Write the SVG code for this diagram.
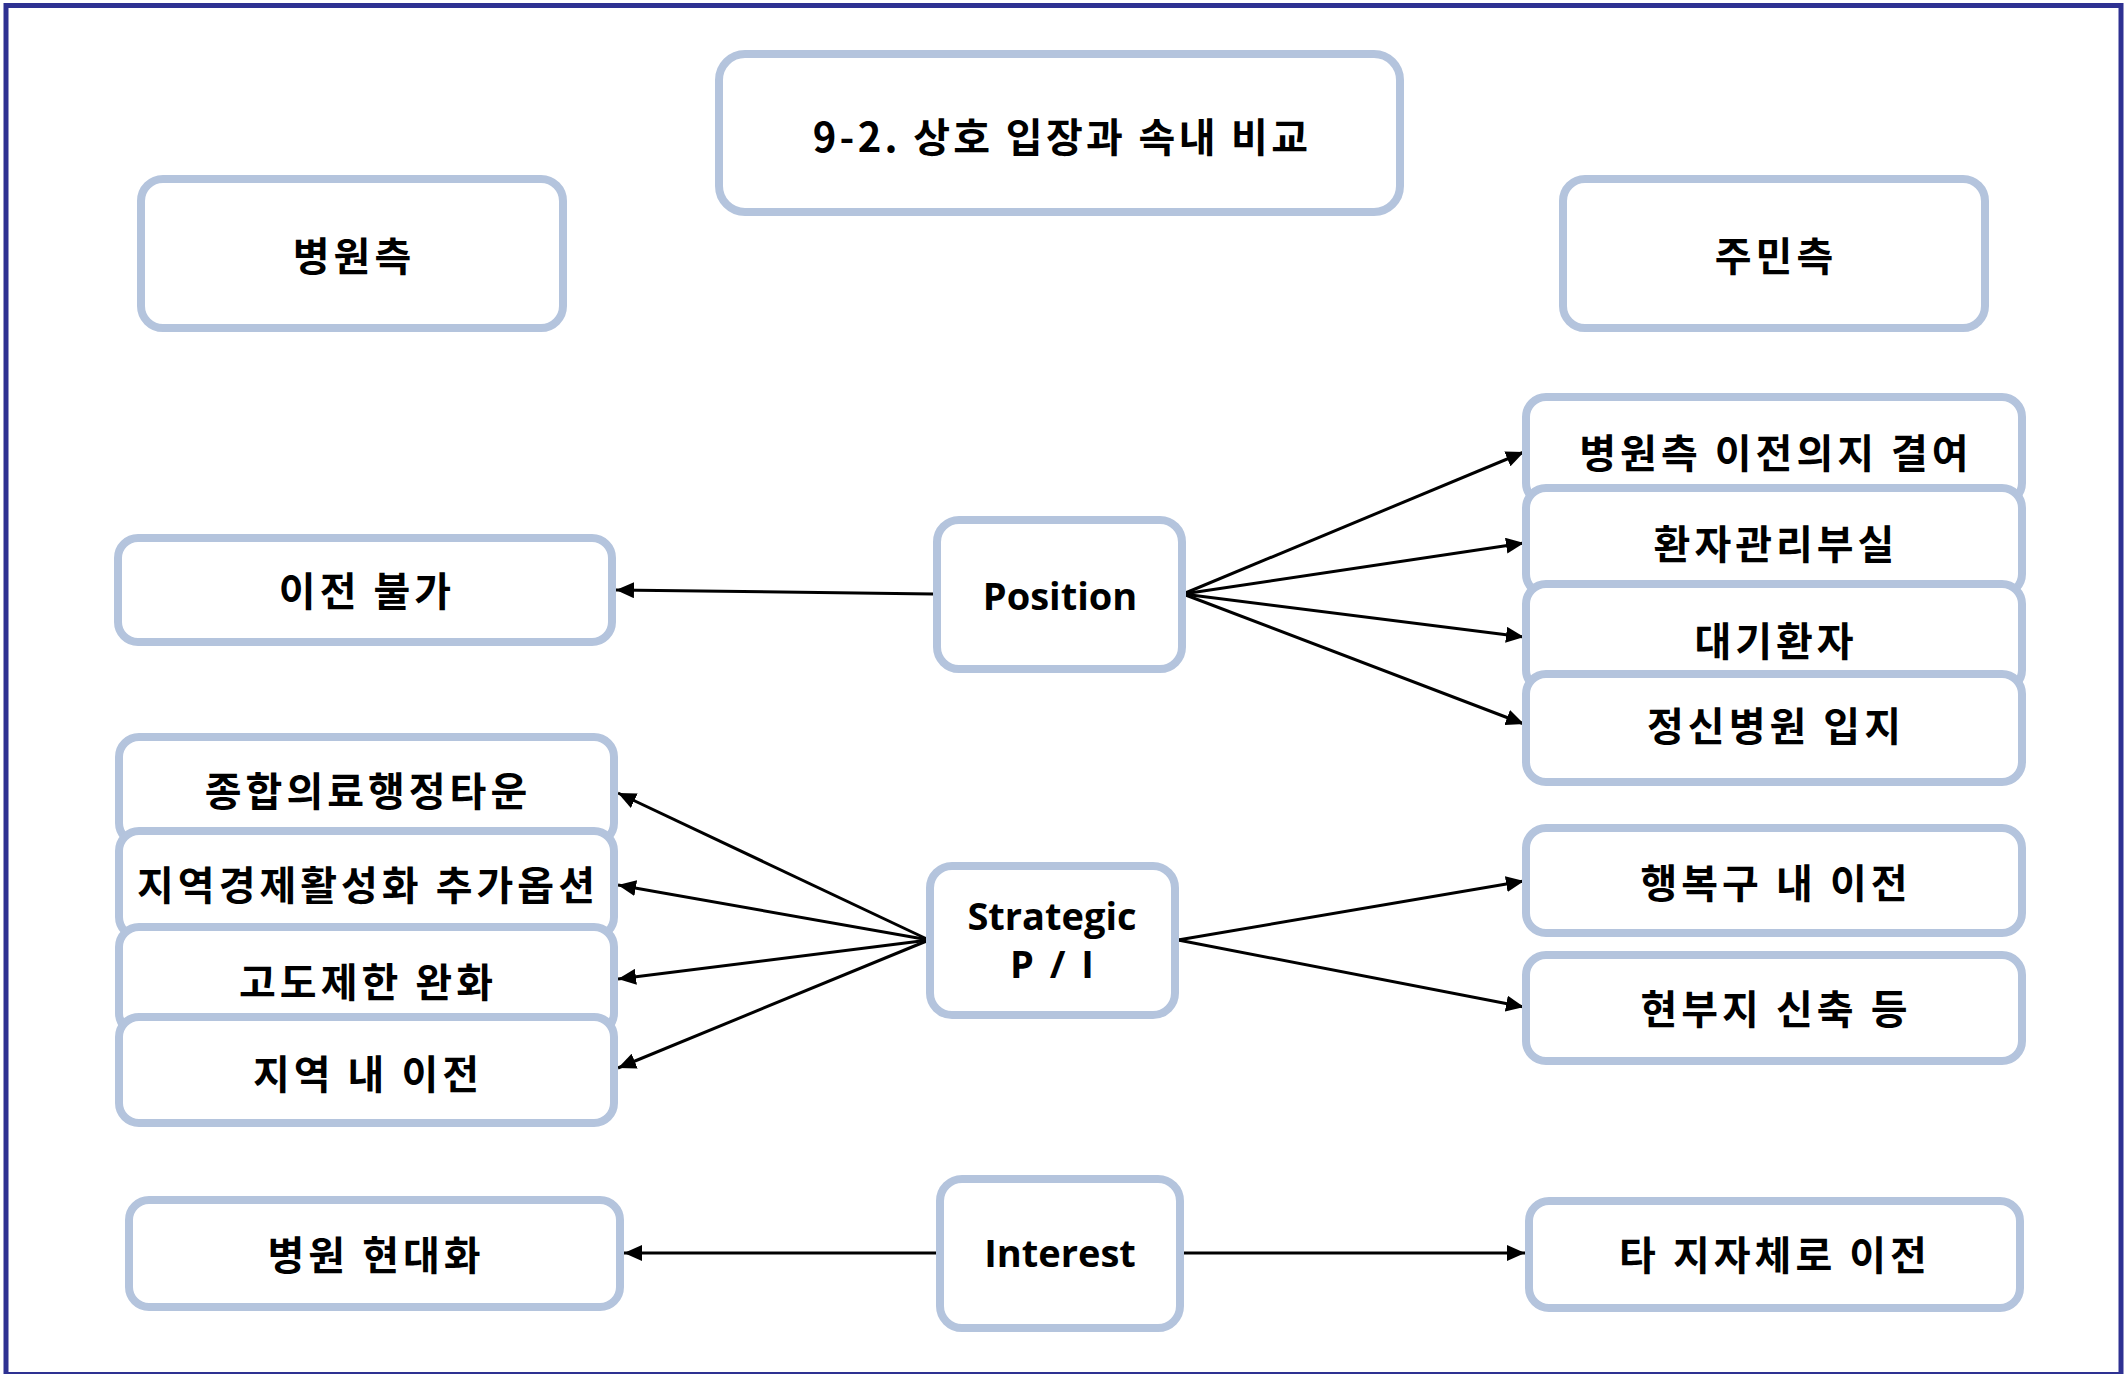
<svg xmlns="http://www.w3.org/2000/svg" width="2126" height="1374" viewBox="0 0 2126 1374">
<style>
.box{fill:#FFFFFF;stroke:#B4C4DD;stroke-width:8}
.ko{font-family:"Noto Sans CJK KR","Noto Sans",sans-serif;font-weight:700;font-size:40px;letter-spacing:4px;fill:#000;text-anchor:middle}
.tt{letter-spacing:3.3px}
.en{font-family:"Open Sans","Noto Sans",sans-serif;font-weight:700;font-size:38px;fill:#000;text-anchor:middle}
.pi{word-spacing:6px}
.conn{stroke:#000;stroke-width:3;fill:none;marker-end:url(#arr)}
</style>
<defs>
<marker id="arr" markerUnits="userSpaceOnUse" markerWidth="18" markerHeight="16" refX="18" refY="8" orient="auto">
<path d="M0,0 L18,8 L0,16 Z" fill="#000"/>
</marker>
</defs>
<rect x="0" y="0" width="2126" height="1374" fill="#FFFFFF"/>
<rect x="6" y="5.5" width="2115" height="1369" fill="none" stroke="#2E3192" stroke-width="5"/>

<g id="connectors">
<line class="conn" x1="933" y1="594" x2="616" y2="590"/>
<line class="conn" x1="1183" y1="594" x2="1524" y2="452"/>
<line class="conn" x1="1183" y1="594" x2="1524" y2="543"/>
<line class="conn" x1="1183" y1="594" x2="1524" y2="637"/>
<line class="conn" x1="1183" y1="594" x2="1524" y2="724"/>
<line class="conn" x1="929" y1="940" x2="618" y2="793"/>
<line class="conn" x1="929" y1="940" x2="618" y2="885"/>
<line class="conn" x1="929" y1="940" x2="618" y2="979"/>
<line class="conn" x1="929" y1="940" x2="618" y2="1068"/>
<line class="conn" x1="1178" y1="940" x2="1524" y2="881"/>
<line class="conn" x1="1178" y1="940" x2="1524" y2="1007"/>
<line class="conn" x1="936" y1="1253" x2="624" y2="1253"/>
<line class="conn" x1="1184" y1="1253" x2="1525" y2="1253"/>
</g>

<g id="title"><rect class="box" x="719" y="54" width="681" height="158" rx="26"/><text class="ko tt" x="1062" y="152">9-2. 상호 입장과 속내 비교</text></g>
<g id="hospital-side"><rect class="box" x="141" y="179" width="422" height="149" rx="22"/><text class="ko" x="354" y="271">병원측</text></g>
<g id="resident-side"><rect class="box" x="1563" y="179" width="422" height="149" rx="22"/><text class="ko" x="1776" y="271">주민측</text></g>

<g id="position"><rect class="box" x="937" y="520" width="245" height="149" rx="22"/><text class="en" x="1060" y="610">Position</text></g>
<g id="strategic"><rect class="box" x="930" y="866" width="245" height="149" rx="22"/><text class="en" x="1052" y="930">Strategic</text><text class="en pi" x="1052" y="978">P / I</text></g>
<g id="interest"><rect class="box" x="940" y="1179" width="240" height="149" rx="22"/><text class="en" x="1060" y="1267">Interest</text></g>

<g id="no-relocation"><rect class="box" x="118" y="538" width="494" height="104" rx="20"/><text class="ko" x="367" y="606">이전 불가</text></g>

<g id="l1"><rect class="box" x="119" y="737" width="495" height="106" rx="20"/><text class="ko" x="368" y="806">종합의료행정타운</text></g>
<g id="l2"><rect class="box" x="119" y="831" width="495" height="106" rx="20"/><text class="ko" x="368" y="900">지역경제활성화 추가옵션</text></g>
<g id="l3"><rect class="box" x="119" y="927" width="495" height="106" rx="20"/><text class="ko" x="368" y="997">고도제한 완화</text></g>
<g id="l4"><rect class="box" x="119" y="1017" width="495" height="106" rx="20"/><text class="ko" x="368" y="1089">지역 내 이전</text></g>

<g id="r1"><rect class="box" x="1526" y="397" width="496" height="106" rx="20"/><text class="ko" x="1776" y="468">병원측 이전의지 결여</text></g>
<g id="r2"><rect class="box" x="1526" y="488" width="496" height="106" rx="20"/><text class="ko" x="1776" y="559">환자관리부실</text></g>
<g id="r3"><rect class="box" x="1526" y="584" width="496" height="106" rx="20"/><text class="ko" x="1776" y="656">대기환자</text></g>
<g id="r4"><rect class="box" x="1526" y="674" width="496" height="108" rx="20"/><text class="ko" x="1776" y="741">정신병원 입지</text></g>

<g id="r5"><rect class="box" x="1526" y="828" width="496" height="105" rx="20"/><text class="ko" x="1776" y="898">행복구 내 이전</text></g>
<g id="r6"><rect class="box" x="1526" y="955" width="496" height="106" rx="20"/><text class="ko" x="1776" y="1024">현부지 신축 등</text></g>

<g id="modernize"><rect class="box" x="129" y="1200" width="491" height="107" rx="20"/><text class="ko" x="376" y="1270">병원 현대화</text></g>
<g id="other-city"><rect class="box" x="1529" y="1201" width="491" height="107" rx="20"/><text class="ko" x="1775" y="1270">타 지자체로 이전</text></g>
</svg>
